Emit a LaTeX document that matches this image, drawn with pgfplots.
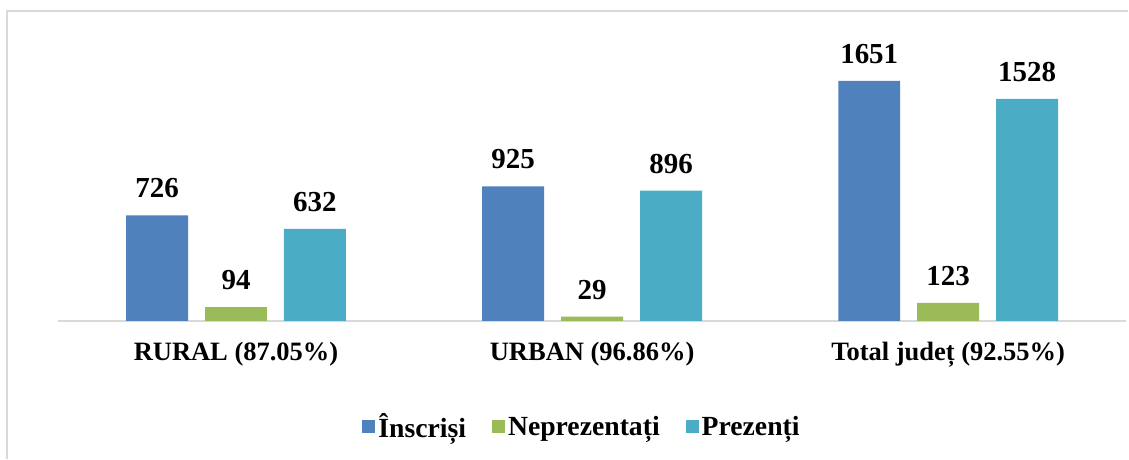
\documentclass[border=0pt]{standalone}
\usepackage{pgfplots}
\pgfplotsset{compat=1.18}
\usepackage{fontspec}
\setmainfont{Liberation Serif}

\definecolor{cInscrisi}{HTML}{4F81BD}
\definecolor{cNeprez}{HTML}{9BBB59}
\definecolor{cPrezenti}{HTML}{4BACC6}
\definecolor{frame}{HTML}{D9D9D9}

\begin{document}
\begin{tikzpicture}[x=1pt,y=1pt]
\path (0,0) rectangle (1129,459);
\draw[draw=frame, line width=1.5pt] (7,0) -- (7,448) -- (1129,448);
\begin{axis}[
    at={(58pt,138pt)}, anchor=south west,
    scale only axis, width=1069pt, height=261.7pt,
    xmin=-0.5, xmax=2.5, ymin=0, ymax=1800,
    clip=false,
    ybar=17pt, bar width=62pt,
    axis y line=none, ytick=\empty,
    axis x line*=bottom,
    x axis line style={-, draw=frame, line width=1.5pt},
    major tick length=0pt, xtick style={draw=none},
    xtick={0,1,2},
    xticklabels={{RURAL (87.05\%)}, {URBAN (96.86\%)}, {Total județ (92.55\%)}},
    xticklabel style={font=\fontsize{26.5}{30}\selectfont\bfseries, inner sep=0pt, yshift=-21pt},
    /pgf/number format/.cd, 1000 sep={}, assume math mode=true, /pgfplots/.cd,
    nodes near coords,
    every node near coord/.append style={font=\fontsize{29}{32}\selectfont\bfseries, inner sep=0pt, anchor=south, yshift=17pt, text=black},
    legend columns=-1,
    legend image code/.code={\fill[#1] (0pt,-6pt) rectangle (13pt,6.5pt);},
    legend style={at={(axis description cs:0.491,-0.405)}, anchor=center,
        draw=none, fill=none,
        font=\fontsize{27.7}{32}\selectfont\bfseries,
        nodes={inner sep=3pt},
        /tikz/every even column/.append style={column sep=23pt}},
]
\addplot[fill=cInscrisi, draw=none] coordinates {(0,726) (1,925) (2,1651)};
\addplot[fill=cNeprez, draw=none] coordinates {(0,94) (1,29) (2,123)};
\addplot[fill=cPrezenti, draw=none] coordinates {(0,632) (1,896) (2,1528)};
\legend{Înscriși, Neprezentați, Prezenți}
\end{axis}
\end{tikzpicture}
\end{document}
